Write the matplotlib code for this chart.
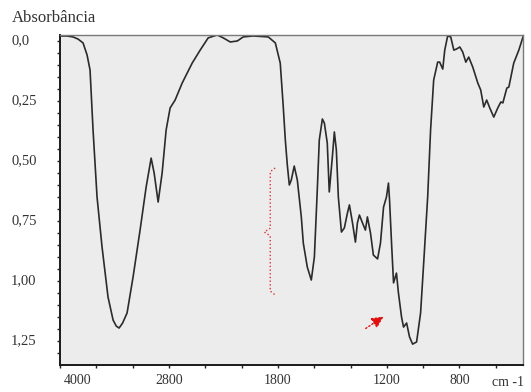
import numpy as np
import matplotlib
matplotlib.use("Agg")
from matplotlib import pyplot as plt
import matplotlib.transforms as mtransforms

plt.rcParams['font.family'] = ['Liberation Serif', 'DejaVu Serif']

# FTIR spectrum (wavenumber in cm-1, absorbance)
wavenumber = [4000, 3923, 3857, 3801, 3746, 3702, 3669, 3636, 3592, 3537,
              3471, 3415, 3380, 3349, 3310, 3261, 3195, 3118, 3051, 2996, 2963, 2919,
              2875, 2831, 2787, 2732, 2654, 2544, 2456, 2368, 2268, 2202,
              2125, 2047, 1991, 1936, 1853, 1814, 1787, 1771, 1759, 1748,
              1737, 1726, 1710, 1693, 1671, 1660, 1638, 1616, 1599, 1583,
              1572, 1555, 1544, 1528, 1517, 1500, 1489, 1478, 1467, 1450,
              1434, 1417, 1406, 1389, 1373, 1362, 1351, 1334, 1318, 1307,
              1290, 1274, 1251, 1235, 1218, 1202, 1191, 1185, 1174, 1163,
              1147, 1136, 1119, 1108, 1091, 1075, 1058, 1036, 1014, 997,
              975, 959, 942, 920, 909, 892, 881, 865, 848, 831,
              815, 798, 782, 765, 749, 727, 699, 683, 666, 650,
              633, 611, 589, 572, 561, 539, 528, 501, 473, 450]
absorbance = [-0.021, -0.021, -0.017, -0.008, 0.008, 0.058, 0.121, 0.371, 0.650, 0.858,
              1.067, 1.163, 1.188, 1.196, 1.175, 1.133, 0.983, 0.788, 0.608, 0.488, 0.550, 0.671,
              0.550, 0.371, 0.279, 0.246, 0.175, 0.092, 0.038, -0.013, -0.025, -0.013,
              0.004, 0.000, -0.017, -0.021, -0.017, 0.008, 0.092, 0.267, 0.413, 0.517,
              0.600, 0.579, 0.521, 0.579, 0.733, 0.842, 0.942, 0.996, 0.900, 0.621,
              0.413, 0.325, 0.342, 0.425, 0.629, 0.483, 0.379, 0.454, 0.650, 0.796,
              0.779, 0.717, 0.683, 0.758, 0.838, 0.758, 0.725, 0.758, 0.788, 0.733,
              0.800, 0.892, 0.908, 0.842, 0.692, 0.650, 0.592, 0.663, 0.842, 1.008,
              0.967, 1.050, 1.150, 1.192, 1.175, 1.233, 1.263, 1.254, 1.133, 0.925,
              0.650, 0.371, 0.163, 0.088, 0.088, 0.117, 0.038, -0.021, -0.017, 0.038,
              0.033, 0.025, 0.046, 0.088, 0.067, 0.108, 0.175, 0.204, 0.275, 0.246,
              0.279, 0.317, 0.279, 0.254, 0.258, 0.196, 0.192, 0.092, 0.038, -0.017]

x_ticks = [4000, 3600, 3200, 2800, 2400, 2000, 1800, 1600, 1400, 1200, 1000, 800, 600]
x_labels = ['4000', '', '', '2800', '', '', '1800', '', '', '1200', '', '800', '']
y_ticks = [0.0, 0.25, 0.50, 0.75, 1.00, 1.25]
y_labels = ['0,0', '0,25', '0,50', '0,75', '1,00', '1,25']

# red brace (x, y) and arrow (tail, head)
brace_x = [1815, 1842, 1842, 1875, 1842, 1842, 1815]
brace_y = [0.529, 0.545, 0.780, 0.796, 0.812, 1.042, 1.058]
arrow_tail = (1329, 1.204)
arrow_head = (1205, 1.142)


# scale compressed above 2000 cm-1 (400 per tick) and 200 per tick below
def fwd(w):
    w = np.asarray(w, dtype=float)
    return np.where(w >= 2000, w / 400.0 - 5.0, (w - 2000.0) / 200.0)


def inv(u):
    u = np.asarray(u, dtype=float)
    return np.where(u >= 0, 400.0 * (u + 5.0), 2000.0 + 200.0 * u)


fig = plt.figure(figsize=(5.31, 3.92), dpi=100)
ax = fig.add_axes([60 / 531, 1 - 365 / 392, 463 / 531, 330 / 392])
ax.set_facecolor('#ececec')
ax.set_xscale('function', functions=(fwd, inv))
ax.set_xlim(4000, 450)
ax.set_ylim(1.35, -0.025)

ax.plot(wavenumber, absorbance, color='#2b2b2b', linewidth=1.2,
        solid_joinstyle='round')

ax.plot(brace_x, brace_y, color='#e0303a', linestyle=':', linewidth=1.0)
ax.annotate('', xy=arrow_head, xytext=arrow_tail,
            arrowprops=dict(arrowstyle='-|>,head_length=0.7,head_width=0.35',
                            color='#e01010', linestyle=':', linewidth=1.0))

ax.set_xticks(x_ticks)
ax.set_xticklabels(x_labels)
ax.minorticks_off()
ax.set_yticks(np.arange(0.0, 1.301, 0.05))
ax.set_yticklabels([])
ax.tick_params(axis='x', direction='out', length=2.5, width=1, color='#222222',
               pad=4, labelsize=10, labelcolor='#333333')
ax.tick_params(axis='y', direction='out', length=2.5, width=1, color='#222222')

lab0 = ax.get_xticklabels()[0]
lab0.set_ha('left')
lab0.set_transform(lab0.get_transform() +
                   mtransforms.ScaledTranslation(3 / 72, 0, fig.dpi_scale_trans))

for v, s in zip(y_ticks, y_labels):
    ax.text(-49 / 463, v, s, transform=ax.get_yaxis_transform(),
            ha='left', va='center', fontsize=10.5, color='#333333')

for side in ['left', 'bottom']:
    ax.spines[side].set_color('#1a1a1a')
    ax.spines[side].set_linewidth(1.4)
for side in ['top', 'right']:
    ax.spines[side].set_color('#7a7a7a')
    ax.spines[side].set_linewidth(1.0)

fig.text(12 / 531, 1 - 18 / 392, 'Absorbância', ha='left', va='center',
         fontsize=12, color='#333333')
fig.text(508 / 531, 1 - 382 / 392, 'cm -1', ha='center', va='center',
         fontsize=10, color='#333333')

fig.savefig('out.png', dpi=100)
